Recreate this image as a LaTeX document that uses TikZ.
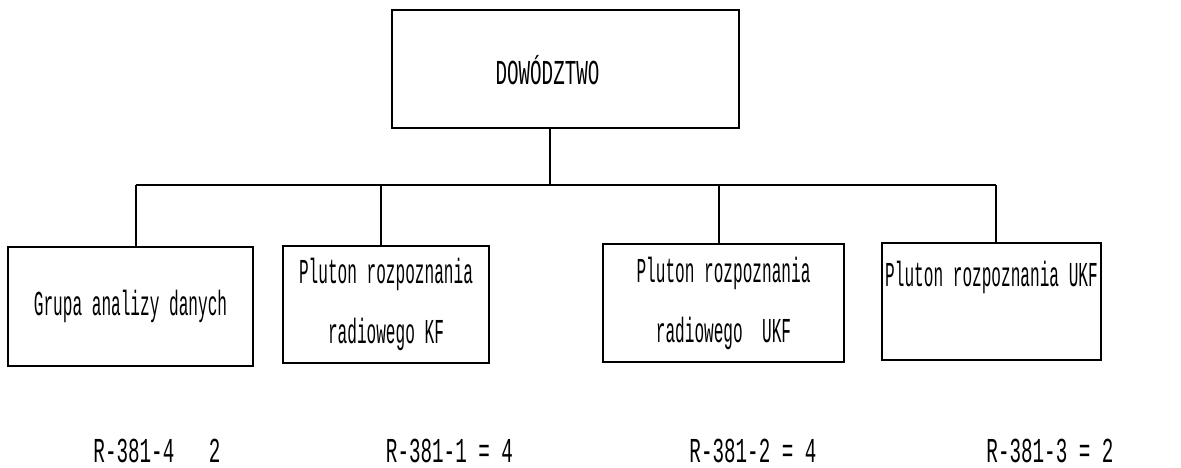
\documentclass[tikz,border=0pt]{standalone}
\usepackage{fontspec}
\usepackage{tikz}
\usetikzlibrary{positioning}
\newfontfamily\plotfont[FakeStretch=0.46]{Liberation Mono}
\newfontfamily\plotwide[FakeStretch=0.55]{Liberation Mono}

\begin{document}
\begin{tikzpicture}[
  x=1pt,y=-1pt,
  line width=1.6pt,
  unit/.style={draw,inner sep=0pt,align=center,
    font={\plotfont\fontsize{35}{60}\selectfont}},
  strength/.style={font={\plotwide\fontsize{35}{40}\selectfont}}]
\useasboundingbox (0,0) rectangle (1181,467);
% command box
\node[unit,minimum width=347pt,minimum height=118pt,
  label={[xshift=-18pt,yshift=-1pt,font={\plotwide\fontsize{35}{40}\selectfont}]center:DOWÓDZTWO}]
  (hq) at (565.5,69) {};
% subordinate units
\node[unit,minimum width=245pt,minimum height=119pt] (grp) at (130.5,306.5)
  {Grupa analizy danych};
\node[unit,minimum width=206pt,minimum height=117pt] (kf) at (386,304.5)
  {Pluton rozpoznania\\radiowego KF};
\node[unit,minimum width=241pt,minimum height=118pt] (ukf) at (723.5,303)
  {Pluton rozpoznania\\radiowego\ \ UKF};
\node[unit,minimum width=219pt,minimum height=117pt,
  label={[yshift=24pt,font={\plotfont\fontsize{35}{40}\selectfont}]center:Pluton rozpoznania UKF}]
  (plukf) at (991.5,301.5) {};
% distribution bar
\coordinate (j1) at (136,185);
\coordinate (j2) at (381,185);
\coordinate (jm) at (550,185);
\coordinate (j3) at (719,185);
\coordinate (j4) at (996,185);
\draw (hq.south -| jm) -- (jm);
\draw (j1) -- (j4);
\draw (j1) -- (j1 |- grp.north);
\draw (j2) -- (j2 |- kf.north);
\draw (j3) -- (j3 |- ukf.north);
\draw (j4) -- (j4 |- plukf.north);
% equipment counts
\node[strength] (s1) at (157,451) {R-381-4\ \ \ 2};
\node[strength] (s2) at (449.5,451) {R-381-1 = 4};
\node[strength] (s3) at (753,451) {R-381-2 = 4};
\node[strength] (s4) at (1050,451) {R-381-3 = 2};
\end{tikzpicture}
\end{document}
